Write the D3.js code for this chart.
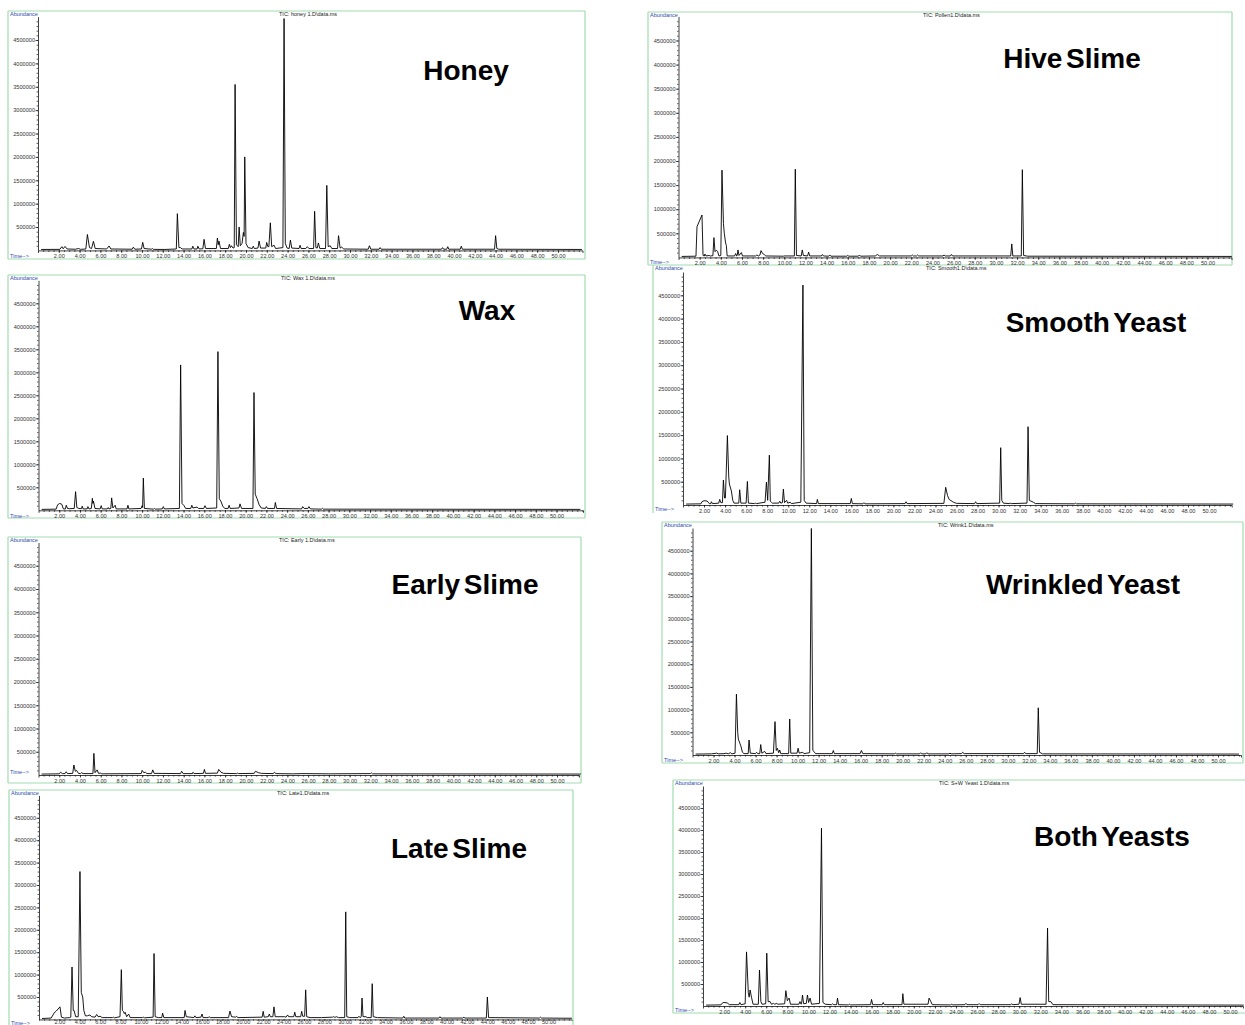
<!DOCTYPE html>
<html>
<head>
<meta charset="utf-8">
<script src="https://cdn.jsdelivr.net/npm/d3@7"></script>
<style>
  body { margin: 0; background: #fff; }
  svg { display: block; font-family: "Liberation Sans", Arial, sans-serif; }
</style>
</head>
<body>
<svg id="chart" width="1245" height="1025"></svg>
<script>
// sample names and the data file titles of each run
const samples = ["Honey", "Wax", "Early Slime", "Late Slime", "Hive Slime", "Smooth Yeast", "Wrinkled Yeast", "Both Yeasts"]
const ticTitles = ["TIC: honey 1.D\\data.ms", "TIC: Wax 1.D\\data.ms", "TIC: Early 1.D\\data.ms", "TIC: Late1.D\\data.ms",
    "TIC: Pollen1.D\\data.ms", "TIC: Smooth1.D\\data.ms", "TIC: Wrink1.D\\data.ms", "TIC: S+W Yeast 1.D\\data.ms"]

// tick labels
const timeTicks = [2, 4, 6, 8, 10, 12, 14, 16, 18, 20, 22, 24, 26, 28, 30, 32, 34, 36, 38, 40, 42, 44, 46, 48, 50]
const abundanceTicks = [500, 1000, 1500, 2000, 2500, 3000, 3500, 4000, 4500] // thousands

// traces: [time (min), abundance (thousands)]
const honey = [[0.3,20],[2.1,22],[2.29,80],[2.42,35],[2.6,85],[2.8,30],[3.6,25],[3.9,40],[4.1,22],[4.6,30],[4.75,340],[4.95,60],[5.15,40],[5.33,195],[5.5,40],[6.6,30],[6.84,95],[7.0,30],[9.05,25],[9.17,70],[9.3,25],[9.95,30],[10.07,172],[10.2,40],[10.9,25],[11.0,40],[11.1,22],[12.2,20],[13.3,30],[13.4,785],[13.55,60],[13.7,60],[13.85,30],[14.8,30],[14.88,90],[15.0,30],[15.3,30],[15.37,90],[15.5,30],[15.85,35],[15.97,237],[16.1,40],[17.15,40],[17.25,265],[17.33,120],[17.4,200],[17.55,40],[18.3,40],[18.4,130],[18.5,60],[18.6,100],[18.75,50],[18.87,60],[18.95,3550],[19.08,120],[19.25,80],[19.34,500],[19.45,100],[19.62,150],[19.75,385],[19.82,300],[19.88,2000],[20.0,150],[20.2,60],[20.6,40],[20.7,90],[20.8,40],[21.15,50],[21.26,200],[21.4,50],[21.9,50],[21.99,170],[22.1,80],[22.2,80],[22.34,590],[22.47,80],[22.7,110],[22.85,40],[23.55,60],[23.66,4960],[23.78,150],[23.95,50],[24.15,40],[24.27,220],[24.4,50],[25.1,40],[25.2,110],[25.3,40],[25.75,40],[25.9,80],[26.05,40],[26.5,40],[26.6,836],[26.72,60],[26.85,50],[26.96,160],[27.1,40],[27.65,40],[27.77,1390],[27.9,80],[28.1,100],[28.25,40],[28.8,40],[28.9,315],[29.05,50],[29.2,70],[29.4,30],[31.75,25],[31.87,100],[32.0,25],[32.8,25],[32.9,60],[33.0,25],[38.8,25],[38.9,60],[39.0,25],[39.3,25],[39.4,80],[39.5,25],[40.6,25],[40.7,90],[40.8,25],[43.9,25],[44.0,315],[44.12,40],[44.3,25],[52.3,20]]

const wax = [[0.3,20],[1.7,25],[1.85,120],[2.05,150],[2.25,130],[2.4,30],[2.6,30],[2.68,110],[2.8,40],[3.0,35],[3.45,40],[3.58,405],[3.7,60],[3.9,40],[4.15,35],[4.22,90],[4.3,30],[4.7,30],[4.77,80],[4.87,30],[5.1,40],[5.2,260],[5.25,150],[5.3,200],[5.45,40],[5.95,30],[6.05,100],[6.15,30],[6.65,30],[6.73,60],[6.8,30],[6.98,40],[7.06,270],[7.18,50],[7.4,110],[7.5,30],[8.55,30],[8.63,110],[8.72,30],[9.9,40],[10.0,100],[10.05,60],[10.12,700],[10.22,40],[11.1,25],[11.2,40],[11.3,25],[11.95,30],[12.05,80],[12.15,30],[13.6,40],[13.72,3160],[13.85,150],[14.05,100],[14.2,40],[14.7,40],[14.8,110],[14.9,50],[15.3,70],[15.45,40],[15.95,40],[16.07,100],[16.2,40],[17.2,50],[17.32,3450],[17.45,250],[17.6,200],[17.8,80],[18.0,40],[18.3,40],[18.4,110],[18.5,40],[19.35,50],[19.45,140],[19.6,40],[20.7,40],[20.8,2560],[20.92,350],[21.1,250],[21.3,120],[21.5,50],[21.9,40],[21.99,80],[22.1,40],[22.78,40],[22.86,170],[22.98,40],[25.4,30],[25.5,80],[25.65,40],[26.0,40],[26.1,80],[26.25,30],[27.3,25],[27.4,45],[27.5,25],[52.3,20]]

const earlySlime = [[0.3,20],[2.0,25],[2.13,60],[2.3,30],[2.55,30],[2.67,70],[2.8,30],[3.3,35],[3.41,215],[3.55,80],[3.67,100],[3.85,35],[4.05,30],[4.15,50],[4.3,30],[5.25,30],[5.34,466],[5.45,50],[5.66,110],[5.78,35],[6.0,40],[6.1,25],[9.9,30],[10.0,100],[10.15,50],[10.3,60],[10.45,30],[10.9,30],[11.02,110],[11.15,35],[13.7,30],[13.8,80],[13.95,30],[14.85,30],[14.9,60],[15.0,30],[15.9,35],[16.0,120],[16.1,35],[17.25,40],[17.38,120],[17.6,60],[17.85,35],[19.1,30],[19.2,40],[19.3,30],[20.8,35],[20.92,80],[21.2,50],[21.5,35],[22.65,30],[22.75,60],[22.9,30],[24.5,25],[25.5,30],[28.0,25],[32.0,30],[32.1,45],[32.2,25],[52.3,20]]

const lateSlime = [[0.3,20],[1.2,30],[1.5,150],[1.67,180],[2.06,280],[2.2,50],[2.5,30],[3.0,40],[3.12,50],[3.24,1170],[3.36,200],[3.44,200],[3.6,60],[3.85,60],[4.02,3300],[4.15,600],[4.29,500],[4.4,200],[4.55,80],[4.75,80],[5.0,100],[5.15,60],[5.5,50],[5.66,110],[5.8,60],[6.0,70],[6.2,40],[7.2,40],[7.3,50],[7.4,35],[7.95,60],[8.08,1110],[8.18,200],[8.28,180],[8.37,130],[8.45,160],[8.6,60],[8.8,120],[8.95,40],[10.15,40],[10.24,50],[10.35,35],[11.2,50],[11.29,1470],[11.4,60],[11.7,40],[12.05,40],[12.13,140],[12.25,40],[14.25,40],[14.33,200],[14.45,60],[15.2,40],[15.3,80],[15.4,40],[15.9,50],[16.0,120],[16.1,40],[16.6,40],[16.7,60],[16.8,40],[18.6,40],[18.74,185],[18.9,60],[19.3,50],[19.4,70],[19.5,40],[21.9,50],[22.0,180],[22.1,50],[22.5,60],[22.6,120],[22.7,60],[22.95,60],[23.06,280],[23.18,60],[24.1,60],[24.25,50],[24.4,100],[24.5,60],[25.0,60],[25.1,160],[25.2,60],[25.68,60],[25.78,180],[25.88,70],[26.07,70],[26.17,660],[26.27,60],[26.6,40],[27.74,40],[28.8,50],[28.9,60],[29.05,45],[29.2,60],[29.4,40],[30.0,40],[30.1,2400],[30.2,60],[30.5,40],[31.3,40],[31.4,70],[31.5,40],[31.62,60],[31.7,477],[31.8,60],[32.1,60],[32.2,40],[32.6,40],[32.7,797],[32.8,60],[33.2,40],[35.7,30],[35.8,70],[35.9,30],[39.25,30],[39.35,60],[39.45,30],[41.6,30],[41.7,50],[41.8,30],[43.9,30],[44.0,500],[44.12,40],[49.1,30],[49.2,50],[49.3,30],[52.3,25]]

const hiveSlime = [[0.3,20],[1.65,25],[1.75,637],[2.22,880],[2.32,40],[2.45,30],[2.5,70],[2.6,30],[2.9,40],[3.0,30],[3.25,35],[3.35,410],[3.45,120],[3.58,150],[3.7,120],[3.82,30],[4.0,40],[4.11,1810],[4.25,700],[4.33,500],[4.45,300],[4.52,250],[4.6,30],[5.3,30],[5.4,80],[5.5,30],[5.55,40],[5.62,155],[5.72,40],[5.94,100],[6.05,30],[7.3,30],[7.4,50],[7.55,30],[7.7,50],[7.8,140],[7.95,80],[8.1,60],[8.25,30],[9.9,25],[10.0,30],[10.95,30],[11.04,1830],[11.15,40],[11.6,30],[11.7,155],[11.8,40],[12.2,30],[12.3,110],[12.4,30],[13.5,30],[13.6,60],[13.7,30],[14.2,25],[14.3,50],[14.4,25],[15.9,25],[16.0,40],[16.1,25],[17.0,25],[17.1,50],[17.2,25],[18.6,30],[18.8,60],[19.0,30],[22.0,30],[22.1,50],[22.2,30],[22.5,30],[22.6,50],[22.7,30],[25.0,30],[25.1,50],[25.2,30],[25.7,30],[25.8,60],[25.9,30],[31.4,30],[31.5,280],[31.6,30],[32.4,30],[32.5,1820],[32.62,40],[33.0,25],[52.3,20]]

const smoothYeast = [[0.3,20],[1.7,25],[1.8,70],[2.0,92],[2.3,85],[2.5,30],[2.65,30],[2.7,70],[2.8,30],[3.4,40],[3.49,120],[3.6,50],[3.75,50],[3.84,536],[3.95,150],[4.03,150],[4.22,1490],[4.35,600],[4.41,450],[4.6,300],[4.73,100],[4.85,40],[5.3,40],[5.39,327],[5.5,40],[6.0,40],[6.12,505],[6.22,40],[6.8,30],[6.9,40],[7.0,30],[7.8,60],[7.93,490],[8.05,100],[8.21,1070],[8.3,80],[8.4,60],[8.5,40],[9.1,40],[9.2,80],[9.3,40],[9.45,50],[9.54,340],[9.65,50],[9.85,100],[9.95,40],[10.2,60],[10.3,30],[11.2,60],[11.4,4720],[11.52,100],[11.7,40],[12.7,30],[12.77,120],[12.87,30],[15.9,30],[16.0,140],[16.1,30],[17.1,25],[17.2,50],[17.3,25],[21.1,30],[21.2,70],[21.3,30],[24.8,35],[24.97,380],[25.15,200],[25.3,120],[25.7,60],[26.0,35],[27.72,30],[27.82,70],[27.92,30],[30.1,40],[30.2,1230],[30.3,100],[30.45,40],[31.0,30],[31.1,40],[31.2,30],[32.7,40],[32.8,1680],[32.92,100],[33.3,60],[33.5,30],[37.2,25],[37.3,40],[37.4,25],[52.3,20]]

const wrinkledYeast = [[0.3,20],[1.8,25],[2.3,40],[2.5,25],[3.0,30],[3.2,40],[3.4,25],[3.6,50],[3.75,25],[4.05,40],[4.18,1340],[4.3,500],[4.36,350],[4.6,200],[4.75,60],[4.9,30],[5.3,30],[5.38,330],[5.5,40],[6.0,30],[6.1,60],[6.2,30],[6.4,30],[6.49,230],[6.6,40],[6.87,80],[7.0,30],[7.7,40],[7.85,735],[7.97,100],[8.08,150],[8.2,50],[8.3,110],[8.4,30],[9.15,30],[9.25,793],[9.35,40],[9.95,40],[10.05,150],[10.15,40],[10.5,60],[10.6,30],[11.15,50],[11.31,4990],[11.45,100],[11.55,80],[11.7,30],[13.3,30],[13.4,100],[13.5,30],[15.95,30],[16.07,100],[16.2,30],[19.2,25],[19.3,40],[19.4,25],[21.6,25],[21.7,50],[21.8,25],[22.2,25],[22.3,50],[22.4,25],[24.4,25],[24.5,40],[24.6,25],[25.6,30],[25.7,60],[25.85,30],[31.5,30],[31.6,60],[31.7,30],[32.8,30],[32.9,1040],[33.02,60],[33.3,25],[52.0,20]]

const bothYeasts = [[0.3,20],[1.7,25],[1.85,70],[2.0,80],[2.3,70],[2.5,30],[3.4,30],[3.49,80],[3.6,30],[4.0,50],[4.13,1230],[4.3,300],[4.38,200],[4.47,364],[4.6,200],[4.75,40],[5.25,40],[5.36,818],[5.49,100],[5.6,40],[5.95,50],[6.05,1200],[6.18,100],[6.37,100],[6.5,40],[6.7,60],[6.8,40],[7.0,60],[7.1,40],[7.75,50],[7.86,348],[8.0,120],[8.17,180],[8.3,40],[9.1,40],[9.2,100],[9.3,40],[9.35,50],[9.44,250],[9.55,50],[9.8,60],[9.91,250],[10.02,80],[10.16,180],[10.3,40],[11.05,60],[11.24,4040],[11.38,80],[11.6,40],[12.2,30],[12.3,50],[12.4,30],[12.68,30],[12.76,180],[12.86,30],[13.8,25],[13.9,40],[14.0,25],[15.9,30],[15.99,150],[16.1,30],[17.0,30],[17.1,80],[17.2,30],[18.88,30],[18.96,280],[19.06,40],[21.35,40],[21.45,180],[21.6,110],[21.75,30],[23.5,25],[23.6,40],[23.7,25],[24.85,30],[24.95,60],[25.05,30],[26.1,30],[26.2,55],[26.3,30],[29.2,30],[29.3,50],[29.4,30],[29.98,40],[30.09,190],[30.2,40],[32.55,40],[32.69,1770],[32.8,100],[33.0,100],[33.2,30],[51.3,20]]

const traces = [honey, wax, earlySlime, lateSlime, hiveSlime, smoothYeast, wrinkledYeast, bothYeasts]

// where each screenshot sits on the page (box = green frame, ax = y axis x, base = zero line,
// ppk = px per 1000 abundance, ppm = px per minute, name = big label position)
const layout = [
    { box: [8, 11, 585, 259], sides: "tlbr", ax: 38, xEnd: 582.5, ppm: 10.4, base: 250.4, ppk: 0.04675, timeY: 258, tic: 279, name: [466, 80] },
    { box: [8, 275, 585, 518], sides: "tlbr", ax: 38.5, xEnd: 583, ppm: 10.36, base: 510.3, ppk: 0.046, timeY: 517.5, tic: 281, name: [487, 320] },
    { box: [8, 537, 581, 783], sides: "tlbr", ax: 38.5, xEnd: 579, ppm: 10.37, base: 775, ppk: 0.0465, timeY: 774, tic: 279, name: [465, 594] },
    // bottom row of the screenshot is cropped: labels squeezed just under the axis
    { box: [9, 790, 573, 1040], sides: "tlr", ax: 39, xEnd: 571.7, ppm: 10.19, base: 1019.4, ppk: 0.0448, timeY: 1024.5, tic: 277, name: [459, 858], tick: 1.3, pad: -0.4 },
    { box: [648, 12, 1232, 265], sides: "tlbr", ax: 678.5, xEnd: 1231.5, ppm: 10.58, base: 257.4, ppk: 0.0482, timeY: 264, tic: 923, name: [1072, 68] },
    { box: [653, 265, 1232, 513], sides: "l", ax: 683, xEnd: 1231.7, ppm: 10.52, base: 505, ppk: 0.0466, timeY: 510.5, tic: 926, name: [1096, 332] },
    { box: [662, 522, 1243, 763], sides: "tlbr", ax: 692.5, xEnd: 1241, ppm: 10.51, base: 755, ppk: 0.0454, timeY: 762, tic: 938, name: [1083, 594] },
    { box: [673, 780, 1250, 1013], sides: "tlb", ax: 703, xEnd: 1243, ppm: 10.54, base: 1006, ppk: 0.044, timeY: 1011.5, tic: 939, name: [1112, 846] },
]

const svg = d3.select("#chart")

const drawPanel = (i) => {
    const L = layout[i]
    const g = svg.append("g")
    const [x0, y0, x1, y1] = L.box
    const tick = L.tick ?? 2.5
    const pad = L.pad ?? 1.5

    // green frame (only the sides that show in the screenshot)
    const frame = { t: [x0, y0, x1, y0], b: [x0, y1, x1, y1], l: [x0, y0, x0, y1], r: [x1, y0, x1, y1] }
    L.sides.split("").forEach(s => {
        const f = frame[s]
        g.append("line")
            .attr("x1", f[0]).attr("y1", f[1]).attr("x2", f[2]).attr("y2", f[3])
            .attr("stroke", "#9fdcb0").attr("stroke-width", 1.2)
    })

    const x = d3.scaleLinear()
        .domain([0, (L.xEnd - L.ax) / L.ppm])
        .range([L.ax, L.xEnd])
    const y = d3.scaleLinear()
        .domain([0, 5000])
        .range([L.base, L.base - 5000 * L.ppk])

    // minor ticks first, then the labelled axes
    g.append("g")
        .attr("transform", "translate(0," + L.base + ")")
        .call(d3.axisBottom(x).tickValues(d3.range(0.5, x.domain()[1], 0.5)).tickSize(Math.min(1.6, tick)).tickFormat("").tickSizeOuter(0))
        .call(a => a.select(".domain").remove())
    g.append("g")
        .attr("transform", "translate(" + L.ax + ",0)")
        .call(d3.axisLeft(y).tickValues(d3.range(100, 5000, 100)).tickSize(1.4).tickFormat("").tickSizeOuter(0))
        .call(a => a.select(".domain").remove())

    const xAxis = g.append("g")
        .attr("transform", "translate(0," + L.base + ")")
        .call(d3.axisBottom(x).tickValues(timeTicks).tickSize(tick).tickPadding(pad)
            .tickFormat(d3.format(".2f")).tickSizeOuter(tick))
    const yAxis = g.append("g")
        .attr("transform", "translate(" + L.ax + ",0)")
        .call(d3.axisLeft(y).tickValues(abundanceTicks).tickSize(2.5).tickPadding(0.5)
            .tickFormat(d => String(d * 1000)).tickSizeOuter(0))

    ;[xAxis, yAxis].forEach(a => {
        a.selectAll("path, line").attr("stroke", "#111").attr("stroke-width", 0.8)
        a.selectAll("text").attr("font-size", 5.6).attr("fill", "#333").attr("font-family", "Liberation Sans, Arial, sans-serif")
    })
    g.selectAll(".tick line").attr("stroke", "#111").attr("stroke-width", 0.7)

    // the chromatogram trace
    const line = d3.line()
        .x(d => x(d[0]))
        .y(d => y(d[1]))
    g.append("path")
        .datum(traces[i])
        .attr("d", line)
        .attr("fill", "none")
        .attr("stroke", "#000")
        .attr("stroke-width", 0.9)
        .attr("stroke-linejoin", "round")

    // small instrument labels
    g.append("text")
        .attr("x", x0 + 2).attr("y", y0 + 4.5)
        .attr("font-size", 5.5).attr("fill", "#2d4bb0")
        .text("Abundance")
    g.append("text")
        .attr("x", x0 + 2).attr("y", L.timeY)
        .attr("font-size", 5.5).attr("fill", "#2d4bb0")
        .text("Time-->")
    g.append("text")
        .attr("x", L.tic).attr("y", y0 + 4.5)
        .attr("font-size", 5.5).attr("fill", "#222")
        .text(ticTitles[i])

    // big sample label
    g.append("text")
        .attr("x", L.name[0]).attr("y", L.name[1])
        .attr("text-anchor", "middle")
        .attr("font-size", 28).attr("font-weight", "bold")
        .attr("word-spacing", -4)
        .attr("fill", "#000")
        .text(samples[i])
}

samples.forEach((s, i) => drawPanel(i))
</script>
</body>
</html>
